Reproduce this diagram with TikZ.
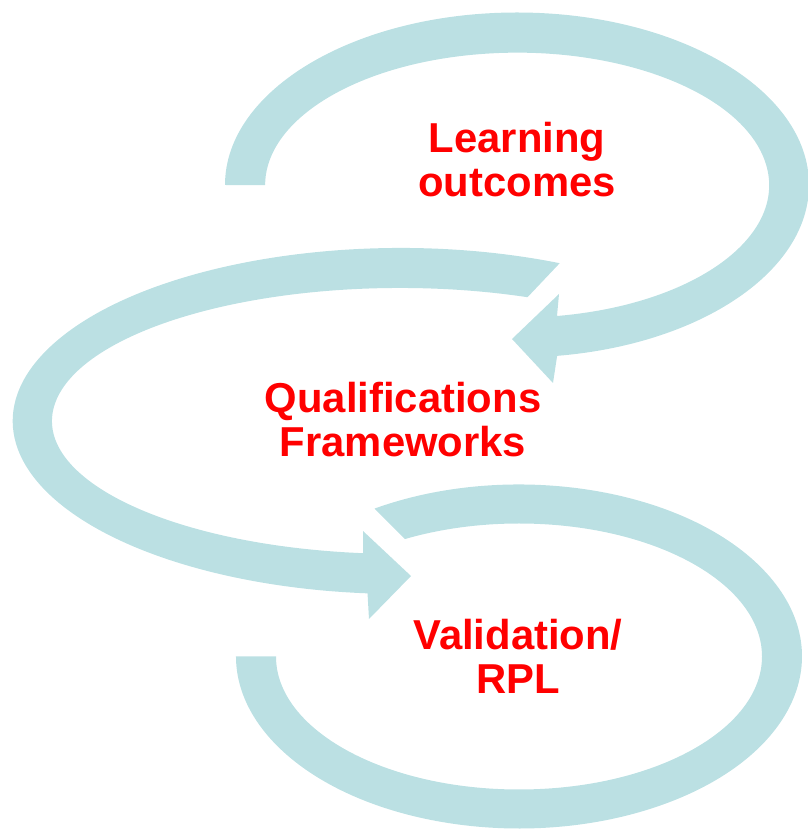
\documentclass[tikz,border=0pt]{standalone}
\usepackage{fontspec}
\setmainfont{Liberation Sans}
\definecolor{loopteal}{RGB}{187,224,227}
\definecolor{loopred}{RGB}{255,0,0}
\tikzset{loopband/.style = {fill=loopteal, draw=none},
         looptext/.style = {text=loopred, align=center, inner sep=0pt,
                            font=\fontsize{23.8}{25}\selectfont\bfseries}}

\begin{document}
\begin{tikzpicture}[x=0.02cm, y=0.02cm]
    \useasboundingbox (0, 0) rectangle (808, 829);
    % top loop, arrow points left
    \fill [loopband] (225, 644)
        arc [start angle=180, end angle=-82.1, x radius=292, y radius=172.5]
        -- (553, 446) -- (512, 490) -- (559, 535) -- (557, 513)
        arc [start angle=-80.9, end angle=180, x radius=252, y radius=132.5]
        -- cycle;
    % middle loop, arrow points right
    \fill [loopband] (559.7, 565.8)
        arc [start angle=65.8, end angle=265.1, x radius=388, y radius=173]
        -- (369, 210) -- (411, 253) -- (363, 298) -- (363, 275.8)
        arc [start angle=263.9, end angle=68.5, x radius=348, y radius=133]
        -- cycle;
    % bottom loop, open end on the left
    \fill [loopband] (374.5, 320.4)
        arc [start angle=120.7, end angle=-180, x radius=283, y radius=172]
        -- (276, 172.5)
        arc [start angle=-180, end angle=118, x radius=243, y radius=133]
        -- cycle;
    \node [looptext] (learning) at (517, 669) {Learning\\outcomes};
    \node [looptext] (qualif) at (403, 409) {Qualifications\\Frameworks};
    \node [looptext] (valid) at (518, 173) {Validation/\\RPL};
\end{tikzpicture}
\end{document}
